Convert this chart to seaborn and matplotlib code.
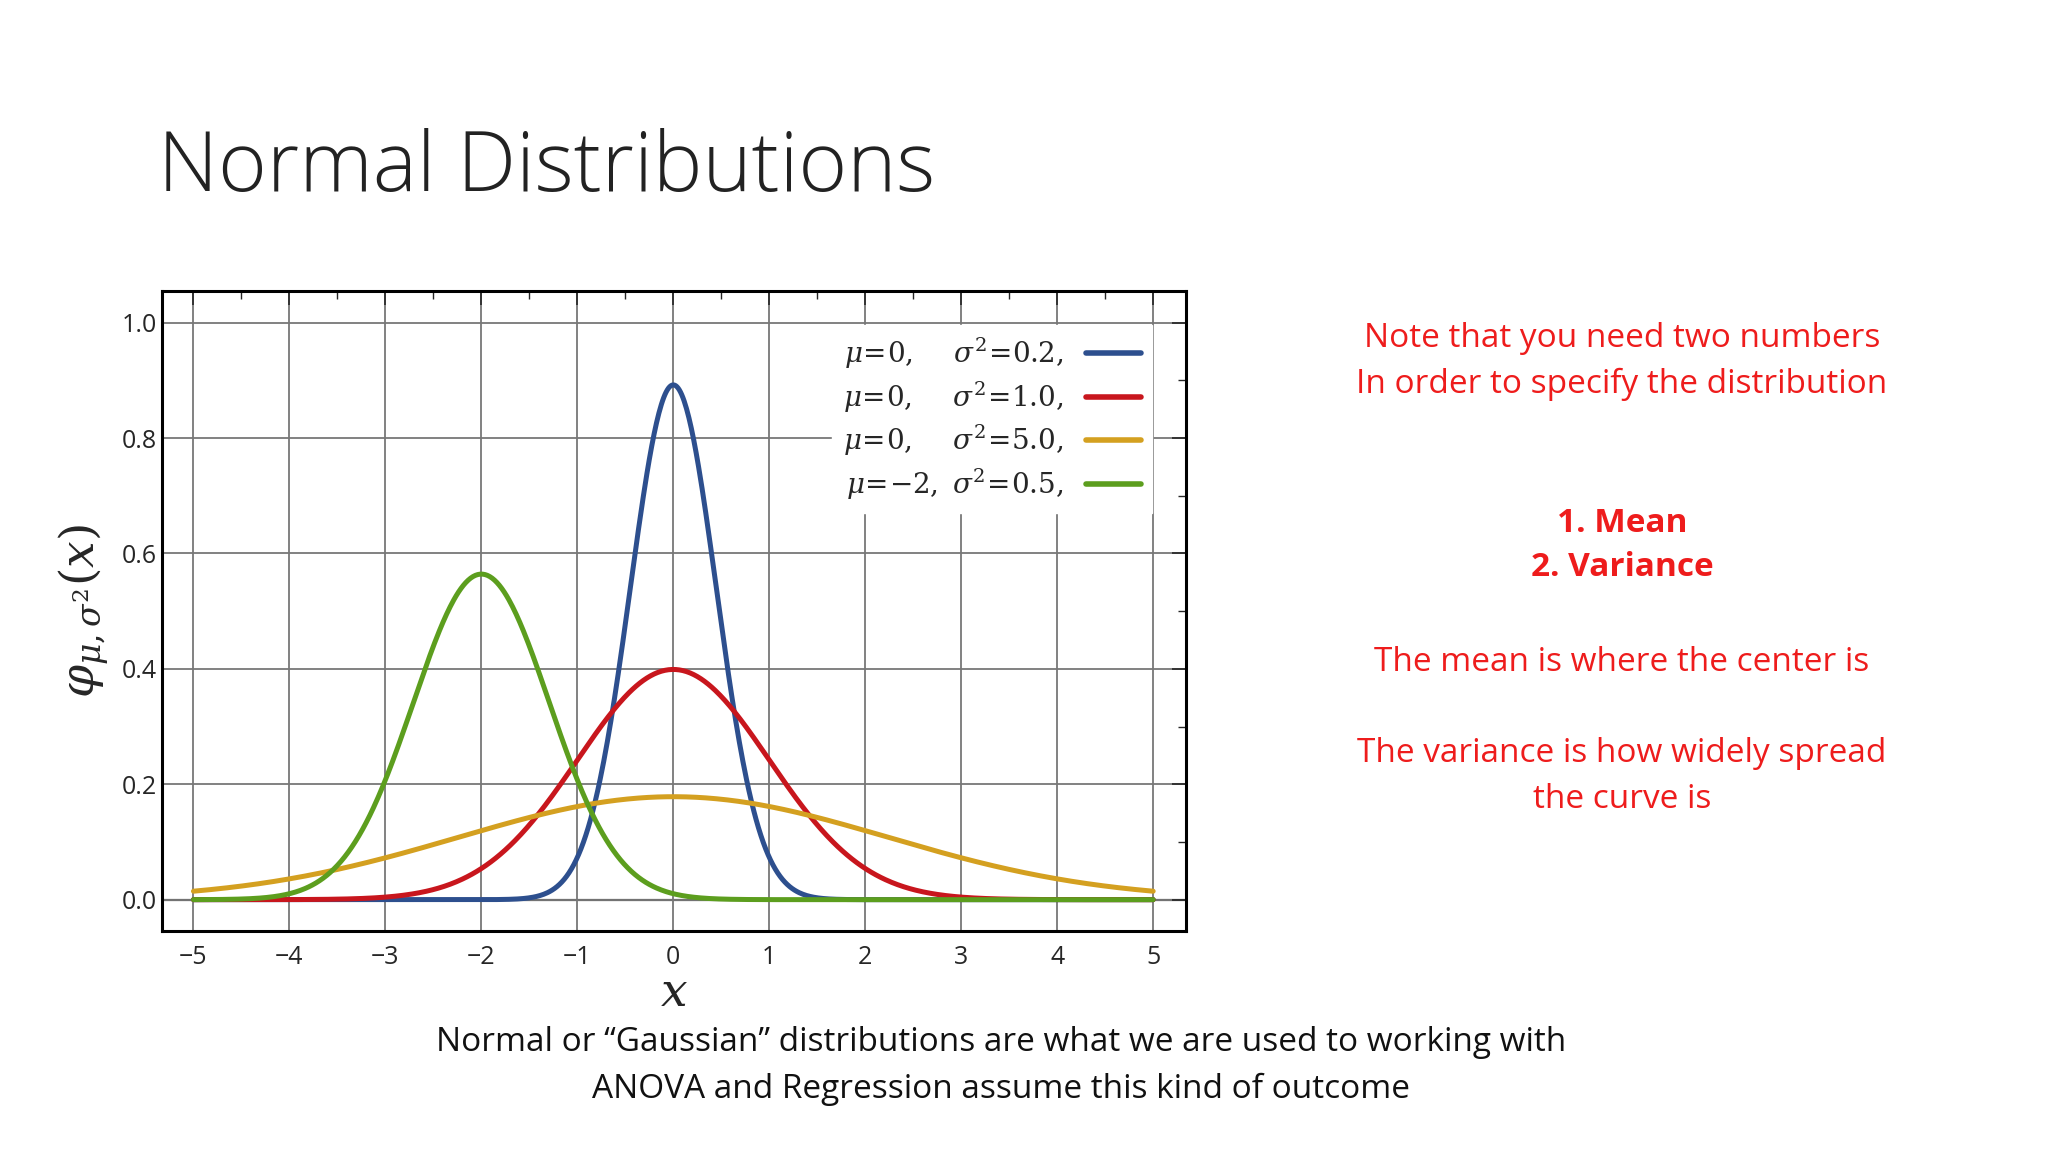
import numpy as np
import pandas as pd
import seaborn as sns
import matplotlib.pyplot as plt

# curve parameters
means = [0, 0, 0, -2]
variances = [0.2, 1.0, 5.0, 0.5]
colors = ["#2d4f8e", "#c8161d", "#d4a020", "#5c9e1e"]
labels = [r"$\mu\!=\!0,\quad\ \sigma^2\!=\!0.2,$",
          r"$\mu\!=\!0,\quad\ \sigma^2\!=\!1.0,$",
          r"$\mu\!=\!0,\quad\ \sigma^2\!=\!5.0,$",
          r"$\mu\!=\!{-}2,\ \sigma^2\!=\!0.5,$"]

note_lines = ["Note that you need two numbers", "In order to specify the distribution"]
bold_lines = ["1. Mean", "2. Variance"]
caption_lines = ["Normal or \u201cGaussian\u201d distributions are what we are used to working with",
                 "ANOVA and Regression assume this kind of outcome"]

xs = np.linspace(-5, 5, 801)
frames = []
for m, v, lab in zip(means, variances, labels):
    y = np.exp(-(xs - m) ** 2 / (2 * v)) / np.sqrt(2 * np.pi * v)
    frames.append(pd.DataFrame({"x": xs, "y": y, "curve": lab}))
df = pd.concat(frames)

sns.set_style("white")
plt.rcParams['font.family'] = ['Open Sans', 'DejaVu Sans']
plt.rcParams['mathtext.fontset'] = 'dejavuserif'

fig = plt.figure(figsize=(20.48, 11.52), dpi=100)
ax = fig.add_axes([0.079, 0.192, 0.500, 0.555])
sns.lineplot(data=df, x="x", y="y", hue="curve", hue_order=labels,
             palette=colors, linewidth=3.6, ax=ax)

ax.set_xlim(-5.33, 5.34)
ax.set_ylim(-0.054, 1.054)
ax.set_xticks(range(-5, 6))
ax.set_xticklabels([str(i).replace("-", "\u2212") for i in range(-5, 6)])
ax.set_yticks([0, 0.2, 0.4, 0.6, 0.8, 1.0])
ax.set_xticks(np.arange(-5, 5.01, 0.5), minor=True)
ax.set_yticks(np.arange(0, 1.01, 0.1), minor=True)
ax.grid(True, which="major", color="#777777", linewidth=1.3)
ax.axhline(0, color="#555555", linewidth=1.6, zorder=0)
ax.tick_params(which="both", direction="in", top=True, right=True, labelsize=18)
ax.tick_params(which="major", length=10, width=1.2)
ax.tick_params(which="minor", length=6, width=1)
ax.tick_params(axis="x", pad=10)
for s in ax.spines.values():
    s.set_linewidth(2.2)
    s.set_color("black")
ax.set_xlabel(r"$x$", fontsize=34, labelpad=0)
ax.set_ylabel(r"$\varphi_{\mu,\sigma^2}(x)$", fontsize=34, labelpad=8)

leg = ax.legend(loc="upper right", markerfirst=False, fontsize=20, frameon=True,
                fancybox=False, edgecolor="white", framealpha=1,
                handlelength=2.0, labelspacing=0.3, borderaxespad=1.2)
for line in leg.get_lines():
    line.set_linewidth(4)

fig.text(0.077, 0.853, "Normal Distributions", fontsize=60, fontweight="light",
         va="center", ha="left", color="#222222")

red = "#ee1c1c"
fs = 24
fig.text(0.792, 0.706, note_lines[0], fontsize=fs, color=red, ha="center", va="center")
fig.text(0.792, 0.666, note_lines[1], fontsize=fs, color=red, ha="center", va="center")
fig.text(0.792, 0.546, bold_lines[0], fontsize=fs, color=red, ha="center", va="center", fontweight="bold")
fig.text(0.792, 0.507, bold_lines[1], fontsize=fs, color=red, ha="center", va="center", fontweight="bold")
fig.text(0.792, 0.425, "The mean is where the center is", fontsize=fs, color=red, ha="center", va="center")
fig.text(0.792, 0.346, "The variance is how widely spread", fontsize=fs, color=red, ha="center", va="center")
fig.text(0.792, 0.306, "the curve is", fontsize=fs, color=red, ha="center", va="center")

fig.text(0.489, 0.095, caption_lines[0], fontsize=fs, color="#111111", ha="center", va="center")
fig.text(0.489, 0.054, caption_lines[1], fontsize=fs, color="#111111", ha="center", va="center")

fig.savefig("out.png", dpi=100)
